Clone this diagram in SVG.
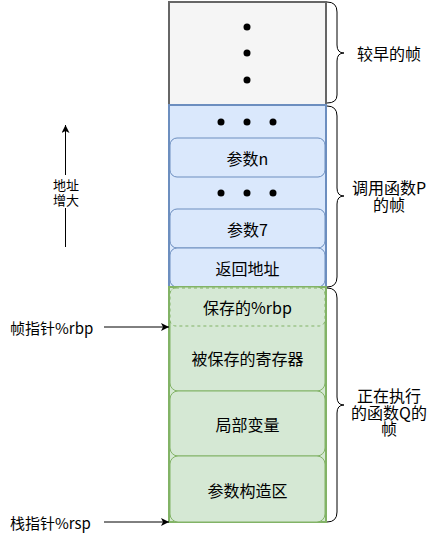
<svg xmlns="http://www.w3.org/2000/svg" width="431" height="536" viewBox="0 0 431 536">
<style>
text{font-family:"Noto Sans CJK SC","Noto Sans",sans-serif;fill:#000;text-anchor:middle;dominant-baseline:central}
.in{font-size:16px}
.lbl{font-size:16px}
.ptr{font-size:15px;text-anchor:start}
.addr{font-size:13px}
.gray{fill:#f5f5f5;stroke:#666666;stroke-width:2}
.blue{fill:#dae8fc;stroke:#6c8ebf;stroke-width:2}
.green{fill:#d5e8d4;stroke:#82b366;stroke-width:2}
.bin{fill:#dae8fc;stroke:#6c8ebf;stroke-width:1}
.gin{fill:#d5e8d4;stroke:#82b366;stroke-width:1}
.gdash{fill:#d5e8d4;stroke:#82b366;stroke-width:1;stroke-dasharray:3 3}
.dot{fill:#000}
.brace{fill:none;stroke:#000;stroke-width:1}
.conn{fill:none;stroke:#000;stroke-width:1}
</style>
<defs>
<marker id="arr" viewBox="0 0 10 10" refX="10" refY="5" markerWidth="8" markerHeight="8" markerUnits="userSpaceOnUse" orient="auto">
<path d="M0,0 L10,5 L0,10 L2.5,5 Z" fill="#000"/>
</marker>
</defs>

<g id="earlier-frame">
<rect class="gray" x="169" y="2" width="157" height="103"/>
<circle class="dot" cx="247" cy="27" r="3.5"/>
<circle class="dot" cx="247" cy="53" r="3.5"/>
<circle class="dot" cx="247" cy="80" r="3.5"/>
</g>

<g id="caller-frame">
<rect class="blue" x="169" y="105" width="157" height="182"/>
<circle class="dot" cx="221" cy="122" r="3.5"/>
<circle class="dot" cx="247" cy="122" r="3.5"/>
<circle class="dot" cx="273" cy="122" r="3.5"/>
<circle class="dot" cx="221" cy="193" r="3.5"/>
<circle class="dot" cx="247" cy="193" r="3.5"/>
<circle class="dot" cx="273" cy="193" r="3.5"/>
</g>
<g id="arg-n">
<rect class="bin" x="170" y="138" width="155" height="39" rx="7"/>
<text class="in" x="247.5" y="157.5">参数n</text>
</g>
<g id="arg-7">
<rect class="bin" x="170" y="209" width="155" height="39" rx="7"/>
<text class="in" x="247.5" y="228.5">参数7</text>
</g>
<g id="return-addr">
<rect class="bin" x="170" y="248" width="155" height="39" rx="7"/>
<text class="in" x="247.5" y="267.5">返回地址</text>
</g>

<g id="current-frame">
<rect class="green" x="169" y="287" width="157" height="235"/>
</g>
<g id="saved-regs">
<rect class="gin" x="170" y="287" width="155" height="104" rx="8"/>
<text class="in" x="247.5" y="358">被保存的寄存器</text>
</g>
<g id="saved-rbp">
<rect class="gdash" x="170" y="288" width="155" height="38" rx="6"/>
<text class="in" x="247.5" y="306.5">保存的%rbp</text>
</g>
<g id="locals">
<rect class="gin" x="170" y="391" width="155" height="65" rx="8"/>
<text class="in" x="247.5" y="424">局部变量</text>
</g>
<g id="arg-build">
<rect class="gin" x="170" y="456" width="155" height="66" rx="8"/>
<text class="in" x="247.5" y="489.5">参数构造区</text>
</g>

<g id="braces">
<path class="brace" d="M327,2 Q337,2 337,12 L337,45 Q337,53 344,53 Q337,53 337,61 L337,95 Q337,103 327,103"/>
<path class="brace" d="M327,106 Q337,106 337,116 L337,188 Q337,196 344,196 Q337,196 337,204 L337,277 Q337,287 327,287"/>
<path class="brace" d="M327,288 Q337,288 337,298 L337,397 Q337,405 344,405 Q337,405 337,413 L337,512 Q337,522 327,522"/>
</g>
<g id="brace-labels">
<text class="lbl" x="389" y="53">较早的帧</text>
<text class="lbl"><tspan x="389" y="187">调用函数P</tspan><tspan x="389" y="204">的帧</tspan></text>
<text class="lbl"><tspan x="389" y="395">正在执行</tspan><tspan x="389" y="411.5">的函数Q的</tspan><tspan x="389" y="428">帧</tspan></text>
</g>

<g id="pointer-labels">
<text class="ptr" x="10" y="327">帧指针%rbp</text>
<text class="ptr" x="10" y="522">栈指针%rsp</text>
</g>
<g id="address-label">
<text class="addr"><tspan x="66" y="184">地址</tspan><tspan x="66" y="199">增大</tspan></text>
</g>

<g id="connectors">
<line class="conn" x1="104" y1="327" x2="169" y2="327" marker-end="url(#arr)"/>
<line class="conn" x1="104" y1="522" x2="169" y2="522" marker-end="url(#arr)"/>
<line class="conn" x1="65.5" y1="247" x2="65.5" y2="208"/>
<line class="conn" x1="65.5" y1="175" x2="65.5" y2="125" marker-end="url(#arr)"/>
</g>
</svg>
